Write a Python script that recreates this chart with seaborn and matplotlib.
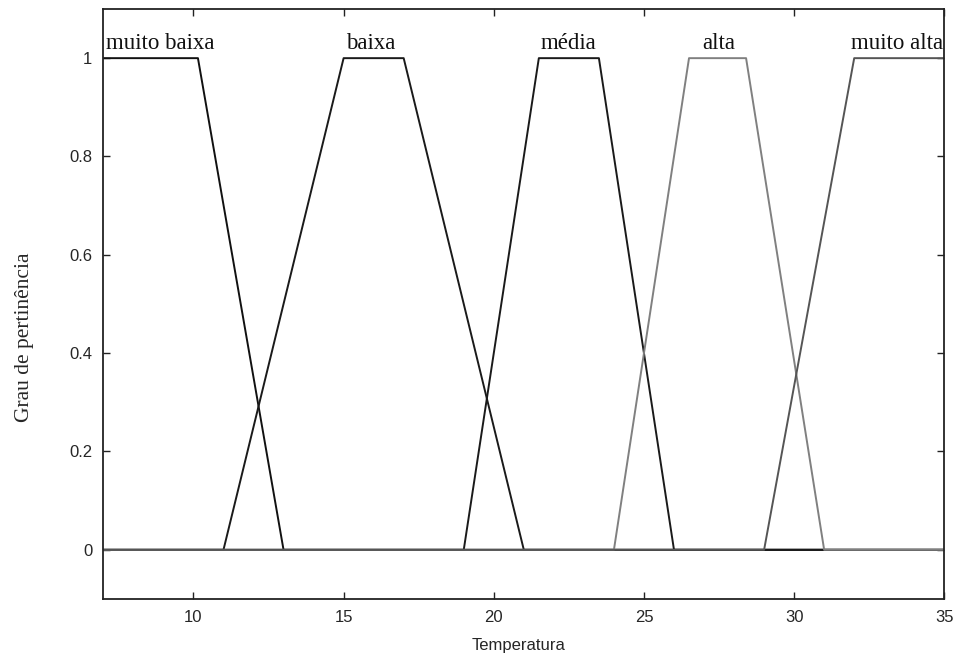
import numpy as np
import pandas as pd
import matplotlib
matplotlib.use("Agg")
import matplotlib.pyplot as plt
import seaborn as sns

# Membership functions (trapezoids: a, b, c, d)
sets = ["muito baixa", "baixa", "média", "alta", "muito alta"]
params_a = [7.0, 11.0, 19.0, 24.0, 29.0]
params_b = [7.0, 15.0, 21.5, 26.5, 32.0]
params_c = [10.15, 17.0, 23.5, 28.4, 35.0]
params_d = [13.0, 21.0, 26.0, 31.0, 35.0]
colors = ["#111111", "#1a1a1a", "#1a1a1a", "#808080", "#555555"]
label_x = [7.1, 15.9, 22.5, 27.5, 34.95]
label_ha = ["left", "center", "center", "center", "right"]
x_min, x_max = 7, 35
x_ticks = [10, 15, 20, 25, 30, 35]
y_ticks = [0, 0.2, 0.4, 0.6, 0.8, 1]


def trapmf(x, a, b, c, d):
    x = np.asarray(x, dtype=float)
    left = np.ones_like(x) if b <= a else np.clip((x - a) / (b - a), 0, 1)
    right = np.ones_like(x) if d <= c else np.clip((d - x) / (d - c), 0, 1)
    return np.minimum(left, right)


grid = np.unique(np.concatenate([[x_min, x_max], params_a, params_b, params_c, params_d]))
rows = []
for name, a, b, c, d in zip(sets, params_a, params_b, params_c, params_d):
    y = trapmf(grid, a, b, c, d)
    for xv, yv in zip(grid, y):
        rows.append({"Temperatura": xv, "mu": yv, "set": name})
df = pd.DataFrame(rows)

sns.set_style("white")
fig = plt.figure(figsize=(9.55, 6.56), dpi=100)
ax = fig.add_axes([0.1082, 0.0869, 0.8806, 0.8994])
sns.lineplot(data=df, x="Temperatura", y="mu", hue="set", hue_order=sets,
             palette=dict(zip(sets, colors)), estimator=None, sort=False,
             linewidth=1.4, legend=False, ax=ax)

for name, lx, ha in zip(sets, label_x, label_ha):
    ax.text(lx, 1.03, name, ha=ha, va="center", fontsize=16.5,
            family="Liberation Serif", color="#111111")

ax.set_xlim(x_min, x_max)
ax.set_ylim(-0.1, 1.1)
ax.set_xticks(x_ticks)
ax.set_yticks(y_ticks)
ax.set_xticklabels([str(t) for t in x_ticks], family="Liberation Sans", fontsize=12)
ax.set_yticklabels([f"{t:g}" for t in y_ticks], family="Liberation Sans", fontsize=12)
ax.tick_params(direction="in", top=True, right=True, bottom=True, left=True,
               length=5, width=1, color="#222222", pad=8)
ax.set_xlabel("Temperatura", family="Liberation Sans", fontsize=12)
ax.xaxis.set_label_coords(0.494, -0.066)
ax.set_ylabel("Grau de pertinência", family="Liberation Serif", fontsize=15.5)
ax.yaxis.set_label_coords(-0.083, 0.444)
for s in ax.spines.values():
    s.set_color("#222222")
    s.set_linewidth(1.3)

fig.savefig("out.png", dpi=100, facecolor="white")
